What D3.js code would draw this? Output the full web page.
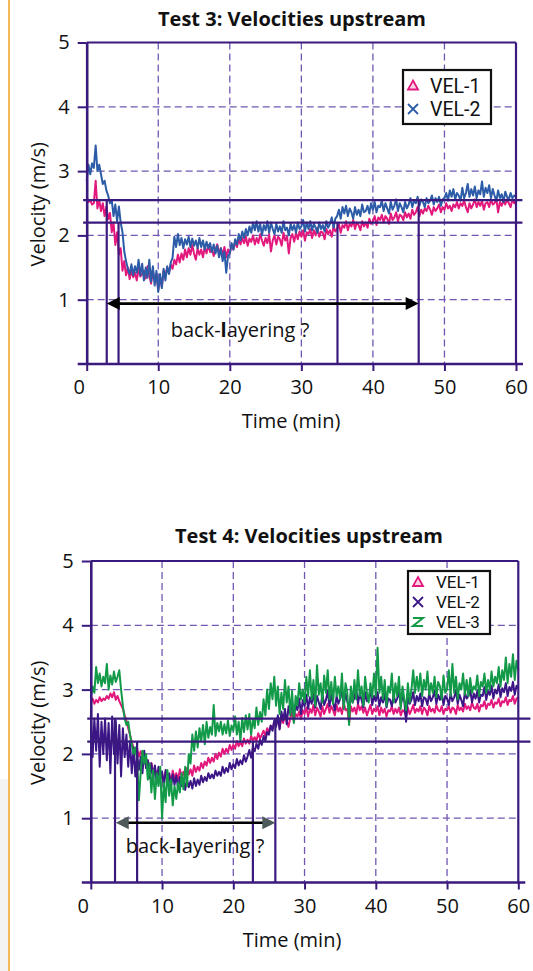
<!DOCTYPE html>
<html>
<head>
<meta charset="utf-8">
<script src="https://cdn.jsdelivr.net/npm/d3@7"></script>
<style>
  body { margin: 0; background: #fff; }
  svg { display: block; font-family: "Open Sans", "Noto Sans", sans-serif; }
</style>
</head>
<body>
<svg id="fig" width="533" height="971"></svg>
<script>
// Readings are logged every 15 s (0.25 min) from t = 0 to t = 60 min.
const LOG_INTERVAL_MIN = 0.25;

const xTicks = [0, 10, 20, 30, 40, 50, 60];
const yTicks = [1, 2, 3, 4, 5];
const gridX = [10, 20, 30, 40, 50];
const gridY = [1, 2, 3, 4];

// ---- Test 3 : upstream velocities (m/s) ----
const test3Vel1 = [
  2.60,2.52,2.55,2.48, 2.50,2.85,2.42,2.55, 2.38,2.50,2.30,2.45, 2.25,2.35,2.05,2.20, 1.85,2.05,1.70,1.80,
  1.45,1.60,1.38,1.50, 1.32,1.45,1.35,1.42, 1.30,1.48,1.36,1.40, 1.45,1.33,1.52,1.38, 1.25,1.45,1.30,1.40,
  1.15,1.35,1.20,1.45, 1.38,1.50,1.42,1.55, 1.48,1.62,1.55,1.70, 1.58,1.72,1.62,1.78, 1.66,1.80,1.70,1.85,
  1.72,1.62,1.80,1.70, 1.78,1.66,1.82,1.72, 1.85,1.74,1.80,1.68, 1.78,1.86,1.72,1.80, 1.70,1.82,1.66,1.78,
  1.72,1.85,1.78,1.90, 1.82,1.94,1.86,1.96, 1.88,1.98,1.84,1.95, 1.90,2.00,1.86,1.96, 1.88,2.02,1.92,1.84,
  1.96,1.88,2.02,1.75, 1.92,2.00,1.86,1.98, 1.94,1.84,2.04,1.92, 1.98,1.72,1.96,2.02, 1.90,2.04,1.94,2.06,
  1.98,2.08,1.92,2.05, 2.02,2.10,1.96,2.08, 2.00,2.12,1.98,2.06, 2.04,1.94,2.10,2.02, 2.08,1.98,2.14,2.06,
  2.10,2.18,2.04,2.16, 2.12,2.22,2.08,2.18, 2.14,2.24,2.10,2.20, 2.16,2.08,2.22,2.14, 2.20,2.12,2.26,2.18,
  2.22,2.30,2.16,2.28, 2.24,2.32,2.20,2.30, 2.26,2.18,2.34,2.24, 2.28,2.36,2.22,2.32, 2.30,2.24,2.36,2.28,
  2.34,2.26,2.40,2.32, 2.36,2.44,2.30,2.40, 2.34,2.42,2.38,2.46, 2.40,2.32,2.44,2.38, 2.42,2.48,2.36,2.44,
  2.40,2.50,2.42,2.46, 2.38,2.48,2.44,2.52, 2.42,2.50,2.46,2.54, 2.44,2.36,2.50,2.42, 2.48,2.56,2.44,2.52,
  2.46,2.54,2.40,2.50, 2.52,2.44,2.56,2.48, 2.50,2.58,2.36,2.52, 2.46,2.54,2.48,2.56, 2.50,2.44,2.56,2.50,
  2.54
];
const test3Vel2 = [
  2.85,3.10,2.95,3.12, 3.05,3.40,3.00,3.10, 2.95,2.80,2.85,2.70, 2.62,2.50,2.55,2.30, 2.48,2.22,2.45,2.20,
  2.05,1.75,1.60,1.48, 1.40,1.55,1.38,1.52, 1.42,1.62,1.38,1.56, 1.30,1.50,1.34,1.62, 1.28,1.52,1.22,1.45,
  1.12,1.40,1.18,1.48, 1.30,1.52,1.40,1.58, 1.65,1.98,1.82,2.02, 1.85,1.96,1.80,1.94, 1.86,1.98,1.82,1.95,
  1.84,1.92,1.80,1.96, 1.82,1.92,1.78,1.90, 1.80,1.88,1.74,1.86, 1.72,1.84,1.66,1.80, 1.60,1.75,1.42,1.68,
  1.72,1.88,1.78,1.94, 1.86,2.02,1.92,2.06, 1.96,2.10,2.00,2.14, 2.04,2.20,2.08,2.22, 2.06,2.18,2.00,2.16,
  2.08,2.22,2.04,2.20, 2.10,2.02,2.18,2.06, 2.14,2.04,2.22,2.08, 2.12,2.00,2.18,2.08, 2.16,2.04,2.20,2.10,
  2.14,2.24,2.06,2.20, 2.10,2.22,2.08,2.18, 2.12,2.04,2.20,2.10, 2.16,2.06,2.22,2.12, 2.18,2.28,2.12,2.26,
  2.30,2.40,2.26,2.44, 2.34,2.46,2.30,2.42, 2.36,2.26,2.44,2.32, 2.40,2.30,2.48,2.36, 2.38,2.46,2.34,2.50,
  2.40,2.52,2.36,2.46, 2.44,2.54,2.38,2.50, 2.42,2.34,2.52,2.40, 2.46,2.56,2.38,2.50, 2.44,2.36,2.52,2.42,
  2.48,2.58,2.44,2.54, 2.50,2.60,2.46,2.56, 2.52,2.44,2.58,2.50, 2.54,2.62,2.48,2.58, 2.52,2.60,2.46,2.56,
  2.58,2.66,2.54,2.70, 2.60,2.72,2.56,2.66, 2.62,2.54,2.74,2.58, 2.66,2.80,2.60,2.72, 2.62,2.76,2.58,2.70,
  2.64,2.84,2.60,2.74, 2.66,2.78,2.58,2.72, 2.62,2.54,2.70,2.58, 2.64,2.52,2.68,2.60, 2.56,2.66,2.58,2.62,
  2.60
];

// ---- Test 4 : upstream velocities (m/s) ----
const test4Vel1 = [
  2.80,2.86,2.78,2.84, 2.80,2.88,2.82,2.86, 2.84,2.90,2.86,2.94, 2.88,2.96,2.84,2.90, 2.82,2.76,2.70,2.60,
  2.52,2.40,2.30,2.18, 2.10,2.02,2.08,1.96, 2.04,1.92,2.00,1.88, 1.90,1.80,1.86,1.74, 1.78,1.66,1.74,1.62,
  1.70,1.58,1.72,1.60, 1.68,1.56,1.74,1.62, 1.70,1.60,1.76,1.64, 1.72,1.62,1.78,1.68, 1.76,1.66,1.82,1.72,
  1.80,1.74,1.86,1.78, 1.88,1.82,1.94,1.86, 1.94,1.88,2.00,1.92, 2.02,1.96,2.08,2.00, 2.08,2.02,2.14,2.06,
  2.14,2.08,2.20,2.12, 2.18,2.12,2.24,2.16, 2.22,2.16,2.28,2.20, 2.26,2.20,2.32,2.24, 2.30,2.36,2.28,2.40,
  2.34,2.44,2.38,2.50, 2.44,2.54,2.40,2.56, 2.48,2.60,2.52,2.42, 2.56,2.64,2.50,2.62, 2.58,2.66,2.54,2.68,
  2.62,2.72,2.58,2.70, 2.64,2.76,2.60,2.72, 2.66,2.58,2.74,2.62, 2.70,2.78,2.64,2.74, 2.68,2.60,2.76,2.66,
  2.72,2.62,2.80,2.68, 2.70,2.48,2.74,2.66, 2.72,2.62,2.78,2.68, 2.74,2.64,2.72,2.60, 2.68,2.76,2.62,2.70,
  2.66,2.74,2.60,2.72, 2.64,2.70,2.58,2.68, 2.66,2.74,2.62,2.70, 2.64,2.72,2.60,2.68, 2.66,2.58,2.72,2.62,
  2.68,2.76,2.64,2.70, 2.66,2.74,2.62,2.72, 2.68,2.60,2.74,2.66, 2.70,2.64,2.76,2.68, 2.66,2.74,2.62,2.70,
  2.68,2.74,2.64,2.72, 2.70,2.62,2.76,2.68, 2.72,2.66,2.78,2.70, 2.74,2.68,2.80,2.72, 2.70,2.78,2.66,2.76,
  2.74,2.82,2.70,2.78, 2.76,2.84,2.72,2.80, 2.78,2.86,2.74,2.82, 2.80,2.88,2.76,2.84, 2.82,2.90,2.78,2.86,
  2.88
];
const test4Vel2 = [
  2.60,1.95,2.55,2.05, 2.62,1.80,2.50,2.00, 2.55,1.90,2.48,1.70, 2.58,2.00,2.52,1.85, 2.45,1.65,2.40,1.95,
  2.30,1.80,2.20,1.70, 2.10,1.65,2.00,1.75, 1.95,1.70,2.05,1.78, 1.90,1.62,1.85,1.60, 1.82,1.55,1.80,1.60,
  1.72,1.50,1.75,1.55, 1.70,1.48,1.68,1.52, 1.66,1.46,1.64,1.50, 1.62,1.44,1.60,1.48, 1.58,1.46,1.62,1.50,
  1.60,1.52,1.66,1.56, 1.64,1.58,1.70,1.62, 1.68,1.62,1.74,1.66, 1.72,1.66,1.80,1.70, 1.78,1.72,1.86,1.76,
  1.84,1.78,1.92,1.82, 1.90,1.84,1.98,1.88, 1.96,2.06,1.94,2.10, 2.04,2.16,2.08,2.22, 2.14,2.28,2.20,2.34,
  2.30,2.44,2.36,2.52, 2.42,2.60,2.38,2.66, 2.52,2.70,2.46,2.74, 2.62,2.80,2.58,2.76, 2.68,2.86,2.62,2.84,
  2.74,2.92,2.70,2.88, 2.78,2.96,2.72,2.90, 2.80,2.70,2.94,2.76, 2.84,2.98,2.74,2.92, 2.80,2.68,2.90,2.78,
  2.86,3.00,2.76,2.94, 2.82,2.70,2.92,2.80, 2.88,3.02,2.78,2.94, 2.84,2.72,2.96,2.82, 2.86,3.00,2.76,2.90,
  2.82,2.96,2.74,2.88, 2.80,2.94,2.72,2.86, 2.84,2.74,2.92,2.80, 2.86,2.98,2.76,2.90, 2.82,2.50,2.88,2.78,
  2.84,2.96,2.76,2.90, 2.82,2.94,2.74,2.88, 2.86,2.76,2.94,2.82, 2.88,2.98,2.78,2.92, 2.84,2.96,2.76,2.90,
  2.86,2.76,2.94,2.82, 2.88,2.98,2.78,2.92, 2.84,2.74,2.96,2.86, 2.90,3.00,2.80,2.94, 2.86,2.98,2.80,2.92,
  2.90,3.04,2.84,2.98, 2.92,3.06,2.86,3.00, 2.94,3.08,2.88,3.02, 2.96,3.10,2.90,3.04, 2.98,3.12,2.92,3.06,
  3.02
];
const test4Vel3 = [
  2.88,3.05,2.95,3.35, 3.10,3.25,3.05,3.20, 3.10,3.40,3.00,3.22, 3.08,3.28,3.12,3.20, 3.30,3.00,2.75,2.55,
  2.45,2.50,2.30,2.15, 2.00,2.10,1.90,1.28, 1.70,2.05,1.85,2.00, 1.60,1.85,1.40,1.75, 1.30,1.70,1.50,1.80,
  1.00,1.55,1.25,1.75, 1.35,1.60,1.20,1.50, 1.30,1.55,1.40,1.70, 1.45,1.80,1.50,2.00, 1.85,2.30,2.05,2.35,
  2.10,2.40,2.20,2.45, 2.15,2.50,2.25,2.42, 2.30,2.76,2.28,2.48, 2.35,2.50,2.30,2.46, 2.32,2.52,2.28,2.44,
  2.36,2.58,2.30,2.50, 2.20,2.56,2.34,2.60, 2.38,2.62,2.30,2.55, 2.40,2.72,2.45,2.65, 2.50,2.85,2.60,3.00,
  2.70,3.10,2.85,3.20, 2.75,3.05,2.62,2.95, 2.70,3.15,2.80,3.05, 2.60,2.98,2.48,2.90, 2.75,3.10,2.85,3.00,
  2.80,3.20,2.90,3.30, 2.85,3.15,2.75,3.38, 2.92,3.10,2.80,3.22, 2.95,3.30,2.85,3.12, 2.78,3.20,2.90,3.05,
  2.85,3.25,2.70,3.10, 2.95,2.45,3.05,2.80, 3.15,2.85,3.30,2.90, 3.05,2.75,3.20,2.95, 2.80,3.10,2.88,3.25,
  2.90,3.65,2.95,3.20, 2.85,3.15,2.75,3.05, 2.95,3.25,2.80,3.10, 2.90,3.20,2.70,3.05, 2.85,2.68,3.10,2.80,
  3.00,3.30,2.95,3.20, 2.98,3.25,2.90,3.15, 3.00,3.28,2.92,3.10, 2.95,3.20,2.88,3.12, 3.05,2.85,3.22,2.95,
  3.00,3.30,2.90,3.40, 2.95,3.20,2.85,3.10, 3.00,3.25,2.92,3.15, 2.90,3.18,2.95,3.05, 3.00,3.22,2.90,3.12,
  3.05,3.25,2.95,3.15, 3.00,3.28,3.05,3.20, 3.10,3.35,3.05,3.30, 3.15,3.50,3.10,3.40, 3.20,3.55,3.15,3.45,
  3.30
];

// Steady-state reference levels (m/s) and the times (min) where each curve crosses them
const test3Levels = [2.55, 2.20];
const test3Crossings = [
  { t: 2.8,  level: 2.55 },
  { t: 4.45, level: 2.20 },
  { t: 35.05, level: 2.20 },
  { t: 46.4, level: 2.55 }
];
const test3Span = [2.8, 46.4];

const test4Levels = [2.55, 2.19];
const test4Crossings = [
  { t: 3.4,  level: 2.55 },
  { t: 6.5,  level: 2.19 },
  { t: 22.75, level: 2.19 },
  { t: 25.9, level: 2.55 }
];
const test4Span = [3.5, 25.9];

const COLORS = {
  vel1: "#e2187c",
  vel2a: "#2c5ba7",
  vel2b: "#3c1686",
  vel3: "#129a48",
  frame: "#3b1a7e",
  grid: "#7257b2"
};

const svg = d3.select("#fig");

// Page margin rule on the left
svg.append("rect").attr("x", 0).attr("y", 779).attr("width", 8).attr("height", 192).attr("fill", "#f3f3f3");
svg.append("line").attr("x1", 9).attr("x2", 9).attr("y1", 0).attr("y2", 971)
  .attr("stroke", "#f2a531").attr("stroke-width", 1.6);

function drawPanel(opt) {
  const x = d3.scaleLinear().domain([0, 60]).range([opt.left, opt.right]);
  const y = d3.scaleLinear().domain([0, 5]).range([opt.bottom, opt.top]);
  const g = svg.append("g");

  // dashed grid
  g.selectAll("line.gx").data(gridX).join("line").attr("class", "gx")
    .attr("x1", d => x(d)).attr("x2", d => x(d))
    .attr("y1", y(5)).attr("y2", y(0))
    .attr("stroke", COLORS.grid).attr("stroke-width", 1.3).attr("stroke-dasharray", "7,4");
  g.selectAll("line.gy").data(gridY).join("line").attr("class", "gy")
    .attr("x1", x(0)).attr("x2", x(60))
    .attr("y1", d => y(d)).attr("y2", d => y(d))
    .attr("stroke", COLORS.grid).attr("stroke-width", 1.3).attr("stroke-dasharray", "7,4");

  // velocity traces
  const line = d3.line()
    .x((d, i) => x(i * LOG_INTERVAL_MIN))
    .y(d => y(d));
  opt.series.forEach(s => {
    g.append("path").datum(s.values)
      .attr("d", line)
      .attr("fill", "none")
      .attr("stroke", s.color)
      .attr("stroke-width", 2)
      .attr("stroke-linejoin", "round");
  });

  // steady-state reference levels
  g.selectAll("line.lvl").data(opt.levels).join("line").attr("class", "lvl")
    .attr("x1", x(-0.5)).attr("x2", x(opt.levelEnd))
    .attr("y1", d => y(d)).attr("y2", d => y(d))
    .attr("stroke", COLORS.frame).attr("stroke-width", 2.2);

  // crossing times
  g.selectAll("line.cross").data(opt.crossings).join("line").attr("class", "cross")
    .attr("x1", d => x(d.t)).attr("x2", d => x(d.t))
    .attr("y1", d => y(d.level)).attr("y2", y(0))
    .attr("stroke", COLORS.frame).attr("stroke-width", 2.2);

  // plot frame: top and right
  g.append("line").attr("x1", x(0)).attr("x2", x(60)).attr("y1", y(5)).attr("y2", y(5))
    .attr("stroke", COLORS.frame).attr("stroke-width", 2.2);
  g.append("line").attr("x1", x(60)).attr("x2", x(60)).attr("y1", y(5)).attr("y2", y(0))
    .attr("stroke", COLORS.frame).attr("stroke-width", 2.2);

  // y axis
  const ya = g.append("g").attr("transform", `translate(${x(0)},0)`)
    .call(d3.axisLeft(y).tickValues(yTicks).tickSize(9).tickSizeOuter(0).tickPadding(8).tickFormat(d3.format("d")));
  ya.select(".domain").attr("stroke", COLORS.frame).attr("stroke-width", 2.6);
  ya.selectAll(".tick line").attr("stroke", COLORS.frame).attr("stroke-width", 2);
  ya.selectAll(".tick text").attr("font-size", 20).attr("fill", "#111")
    .attr("font-family", "'Open Sans', sans-serif");

  // x axis
  const xa = g.append("g").attr("transform", `translate(0,${y(0)})`)
    .call(d3.axisBottom(x).tickValues(xTicks).tickSize(7).tickSizeOuter(0).tickPadding(9));
  xa.select(".domain").remove();
  xa.selectAll(".tick line").attr("stroke", COLORS.frame).attr("stroke-width", 2);
  xa.selectAll(".tick text").attr("font-size", 20).attr("fill", "#111")
    .attr("font-family", "'Open Sans', sans-serif")
    .attr("dx", d => d === 0 ? -8 : 0);
  g.append("line").attr("x1", x(0) - 9).attr("x2", x(60) + 7).attr("y1", y(0)).attr("y2", y(0))
    .attr("stroke", COLORS.frame).attr("stroke-width", 2.4);

  // back-layering arrow
  const ay = y(opt.arrowV);
  const x0 = x(opt.span[0]), x1 = x(opt.span[1]);
  const hl = 13, hh = 6.5;
  g.append("line").attr("x1", x0 + hl - 1).attr("x2", x1 - hl + 1).attr("y1", ay).attr("y2", ay)
    .attr("stroke", "#000").attr("stroke-width", opt.shaftWidth);
  g.append("path").attr("d", `M${x0},${ay}L${x0 + hl},${ay - hh}L${x0 + hl},${ay + hh}Z`).attr("fill", opt.headColor);
  g.append("path").attr("d", `M${x1},${ay}L${x1 - hl},${ay - hh}L${x1 - hl},${ay + hh}Z`).attr("fill", opt.headColor);

  const note = g.append("text").attr("x", opt.noteX).attr("y", opt.noteY)
    .attr("text-anchor", "middle").attr("font-size", 20).attr("fill", "#111");
  note.append("tspan").text("back-");
  note.append("tspan").attr("font-weight", "bold").text("l");
  note.append("tspan").text("ayering ?");

  // titles
  svg.append("text").attr("x", opt.titleX).attr("y", opt.titleY)
    .attr("text-anchor", "middle").attr("font-size", 20).attr("font-weight", "bold").attr("fill", "#111")
    .text(opt.title);
  svg.append("text").attr("transform", `translate(${opt.yLabelX},${(y(0) + y(5)) / 2 + 1}) rotate(-90)`)
    .attr("text-anchor", "middle").attr("font-size", 20).attr("fill", "#111")
    .text("Velocity (m/s)");
  svg.append("text").attr("x", opt.xLabelX).attr("y", y(0) + 64)
    .attr("text-anchor", "middle").attr("font-size", 20).attr("fill", "#111")
    .text("Time (min)");

  // legend
  const L = opt.legend;
  const lg = svg.append("g");
  lg.append("rect").attr("x", L.x).attr("y", L.y).attr("width", L.w).attr("height", L.h)
    .attr("fill", "#fff").attr("stroke", "#111").attr("stroke-width", 2.2);
  opt.series.forEach((s, i) => {
    const cy = L.firstY + i * L.step;
    const mx = L.markerX;
    if (s.marker === "triangle") {
      lg.append("path").attr("d", `M${mx},${cy - 5}L${mx + 5},${cy + 4}L${mx - 5},${cy + 4}Z`)
        .attr("fill", "#fbd3e6").attr("stroke", s.color).attr("stroke-width", 1.8);
    } else if (s.marker === "cross") {
      lg.append("path").attr("d", `M${mx - 5},${cy - 5}L${mx + 5},${cy + 5}M${mx + 5},${cy - 5}L${mx - 5},${cy + 5}`)
        .attr("stroke", s.color).attr("stroke-width", 1.8).attr("fill", "none");
    } else {
      lg.append("path").attr("d", `M${mx - 5},${cy - 4}H${mx + 5}L${mx - 5},${cy + 4}H${mx + 5}`)
        .attr("stroke", s.color).attr("stroke-width", 2).attr("fill", "none");
    }
    lg.append("text").attr("x", L.textX).attr("y", cy + L.fontSize * 0.36)
      .attr("font-family", "Roboto, 'Liberation Sans', sans-serif")
      .attr("font-size", L.fontSize).attr("fill", "#111").text(s.name);
  });
}

drawPanel({
  left: 86.7, right: 516, top: 42.5, bottom: 364,
  title: "Test 3: Velocities upstream", titleX: 292, titleY: 26,
  yLabelX: 45, xLabelX: 291,
  series: [
    { name: "VEL-1", values: test3Vel1, color: COLORS.vel1, marker: "triangle" },
    { name: "VEL-2", values: test3Vel2, color: COLORS.vel2a, marker: "cross" }
  ],
  levels: test3Levels, levelEnd: 60.9, crossings: test3Crossings,
  span: test3Span, arrowV: 0.94, headColor: "#000", shaftWidth: 2.8,
  noteX: 240, noteY: 337,
  legend: { x: 403, y: 70, w: 88, h: 54, markerX: 413, textX: 430, firstY: 85.5, step: 23.5, fontSize: 19.5 }
});

drawPanel({
  left: 90.8, right: 518.3, top: 561, bottom: 882.5,
  title: "Test 4: Velocities upstream", titleX: 309, titleY: 543,
  yLabelX: 45, xLabelX: 292,
  series: [
    { name: "VEL-1", values: test4Vel1, color: COLORS.vel1, marker: "triangle" },
    { name: "VEL-2", values: test4Vel2, color: COLORS.vel2b, marker: "cross" },
    { name: "VEL-3", values: test4Vel3, color: COLORS.vel3, marker: "z" }
  ],
  levels: test4Levels, levelEnd: 61.7, crossings: test4Crossings,
  span: test4Span, arrowV: 0.93, headColor: "#4e5a5a", shaftWidth: 2.4,
  noteX: 195, noteY: 853,
  legend: { x: 408, y: 571, w: 82, h: 63, markerX: 418, textX: 436, firstY: 582, step: 20, fontSize: 17 }
});
</script>
</body>
</html>
